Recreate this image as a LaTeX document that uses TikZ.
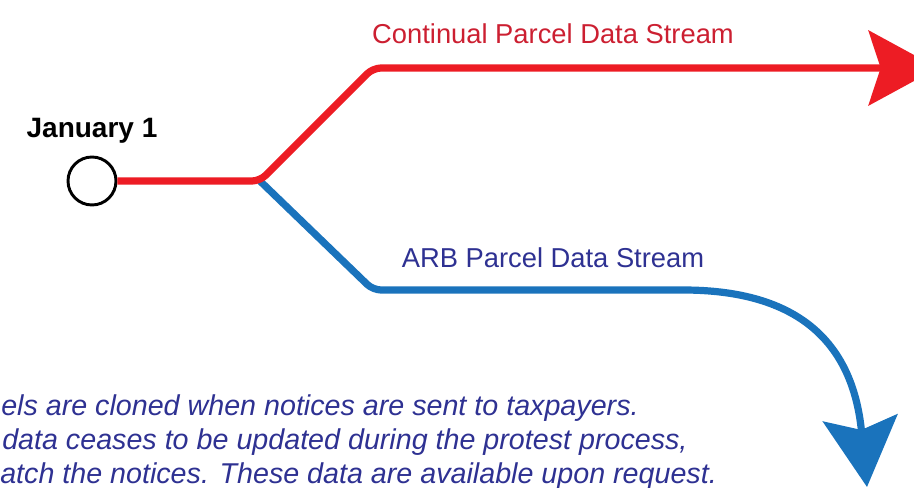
\documentclass[tikz,border=0pt]{standalone}
\usepackage{fontspec}
\setmainfont{Liberation Sans}
\usetikzlibrary{arrows.meta}
\definecolor{streamred}{HTML}{ED1C24}
\definecolor{labelred}{HTML}{CC1F31}
\definecolor{streamblue}{HTML}{1A73BC}
\definecolor{labelblue}{HTML}{2E3192}

\begin{document}
\begin{tikzpicture}[x=0.75pt, y=-0.75pt]
        \tikzstyle{stream}=[line width=5.4pt, rounded corners=6pt, -{Stealth[length=52pt, width=56pt, inset=9pt]}]
        \tikzstyle{streamlabel}=[inner sep=0pt, anchor=base, font=\fontsize{20.5}{24}\selectfont]
        \tikzstyle{noteline}=[inner sep=0pt, anchor=base west, text=labelblue, font=\fontsize{21.5}{25}\selectfont\itshape]
        \clip (0,0) rectangle (914,488);
        \node [circle, draw=black, fill=white, line width=2.2pt, minimum size=36pt, inner sep=0pt] (start) at (92,181) {};
        \node [inner sep=0pt, anchor=base, font=\fontsize{21}{25}\selectfont\bfseries] (jan) at (92,138) {January 1};
        \coordinate (fork) at (260,181);
        \coordinate (redknee) at (373,68);
        \coordinate (redtip) at (938,68);
        \coordinate (blueknee) at (373,290);
        \coordinate (bluebend) at (675,290);
        \coordinate (bluetip) at (867,487);
        \draw [stream, streamblue] (fork) -- (blueknee) -- (bluebend) .. controls (790,290) and (852,335) .. (bluetip);
        \draw [stream, streamred] (start.east) -- (fork) -- (redknee) -- (redtip);
        \node [streamlabel, text=labelred] (contlabel) at (553,44) {Continual Parcel Data Stream};
        \node [streamlabel, text=labelblue] (arblabel) at (553,268) {ARB Parcel Data Stream};
        \node [noteline] (note1) at (1,415) {els are cloned when notices are sent to taxpayers.};
        \node [noteline] (note2) at (2,449) {data ceases to be updated during the protest process,};
        \node [noteline] (note3) at (0,483) {atch the notices. These data are available upon request.};
\end{tikzpicture}
\end{document}
